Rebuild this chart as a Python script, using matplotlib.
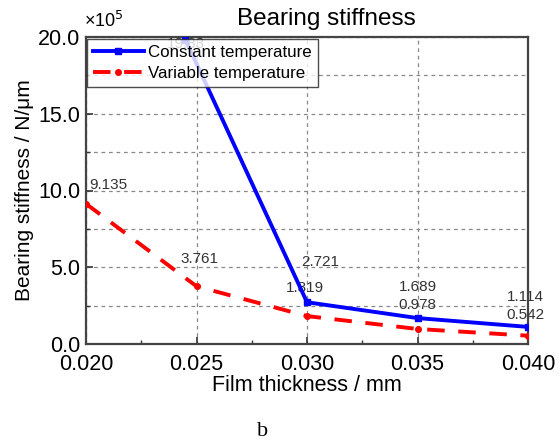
import matplotlib
matplotlib.use("Agg")
import matplotlib.pyplot as plt
from matplotlib.ticker import MultipleLocator, FormatStrFormatter

plt.rcParams['font.family'] = ['Liberation Sans', 'DejaVu Sans']

# Data (values in 1e5 N/um)
x_const = [0.0245, 0.030, 0.035, 0.040]
y_const = [19.83, 2.721, 1.689, 1.114]
lab_const = ["19.83", "2.721", "1.689", "1.114"]

x_var = [0.020, 0.025, 0.030, 0.035, 0.040]
y_var = [9.135, 3.761, 1.819, 0.978, 0.542]
lab_var = ["9.135", "3.761", "1.819", "0.978", "0.542"]

xticks = [0.020, 0.025, 0.030, 0.035, 0.040]
yticks = [0.0, 5.0, 10.0, 15.0, 20.0]

W, H = 559, 445
fig = plt.figure(figsize=(W/100, H/100), dpi=100)
ax = fig.add_axes([86/W, 1-344/H, (528-86)/W, (344-37)/H])

ax.plot(x_const, y_const, color='#0000ff', lw=2.8, marker='s', ms=4,
        label='Constant temperature', zorder=3, clip_on=True)
ax.plot(x_var, y_var, color='#ff0000', lw=2.8, ls=(0, (4.5, 3.5)), marker='o', ms=4,
        label='Variable temperature', zorder=3, clip_on=True)

ax.set_xlim(0.020, 0.040)
ax.set_ylim(0, 20)
ax.set_xticks(xticks)
ax.set_yticks(yticks)
ax.xaxis.set_major_formatter(FormatStrFormatter('%.3f'))
ax.yaxis.set_major_formatter(FormatStrFormatter('%.1f'))
ax.xaxis.set_minor_locator(MultipleLocator(0.0025))
ax.yaxis.set_minor_locator(MultipleLocator(2.5))
ax.tick_params(which='both', direction='in', labelsize=15.5, color='#333333')
ax.tick_params(which='major', length=5, width=1.2)
ax.tick_params(which='minor', length=3, width=1.0)
ax.tick_params(axis='x', pad=7)
ax.tick_params(axis='y', pad=4)
ax.grid(True, which='major', axis='x', ls=(0, (3, 3)), color='#888888', lw=0.9)
ax.grid(True, which='both', axis='y', ls=(0, (3, 3)), color='#888888', lw=0.9)
for s in ax.spines.values():
    s.set_linewidth(1.6)
    s.set_color('#444444')

# Data labels
offs_const = [(0, -4), (13, 40), (0, 31), (-3, 30)]
offs_var = [(22, 19), (3, 27), (-2, 28), (0, 24), (-3, 21)]
for x, y, t, o in zip(x_const, y_const, lab_const, offs_const):
    ax.annotate(t, (x, y), xytext=o, textcoords='offset pixels', ha='center',
                va='center', fontsize=11, color='#333333', zorder=2,
                annotation_clip=False)
for x, y, t, o in zip(x_var, y_var, lab_var, offs_var):
    ax.annotate(t, (x, y), xytext=o, textcoords='offset pixels', ha='center',
                va='center', fontsize=11, color='#333333', zorder=2)

leg = ax.legend(loc='upper left', bbox_to_anchor=(0.002, 0.992), fontsize=12.2,
                frameon=True, fancybox=False, edgecolor='#222222',
                borderpad=0.35, handlelength=3.0, handletextpad=0.25,
                labelspacing=0.35, borderaxespad=0.0)
leg.get_frame().set_linewidth(1.0)
leg.set_zorder(5)

ax.set_xlabel('Film thickness / mm', fontsize=15.5, labelpad=0)
ax.set_ylabel('Bearing stiffness / N/\u03bcm', fontsize=15, labelpad=3)
fig.text(326/W, 1-19/H, 'Bearing stiffness', fontsize=17.5, ha='center', va='center')
fig.text(84/W, 1-21/H, '\u00d710$^{5}$', fontsize=13, ha='left', va='center')
fig.text(263/W, 1-432/H, 'b', fontsize=16, ha='center', va='center',
         family='Liberation Serif')

fig.savefig('out.png', dpi=100)
